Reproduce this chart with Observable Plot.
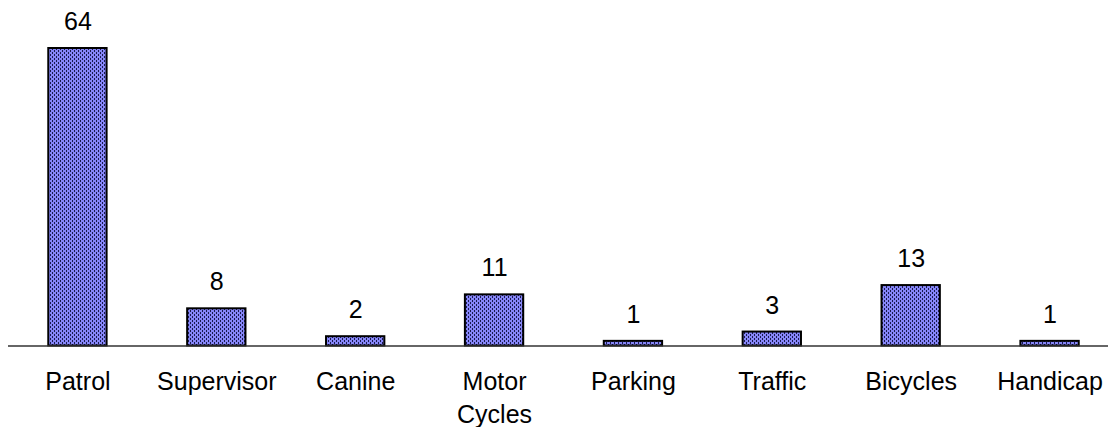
<!DOCTYPE html>
<html>
<head>
<meta charset="utf-8">
<script src="https://cdn.jsdelivr.net/npm/d3@7"></script>
<script src="https://cdn.jsdelivr.net/npm/@observablehq/plot@0.6"></script>
<style>
  html, body { margin: 0; padding: 0; background: #fff; }
  #chart svg { display: block; }
</style>
</head>
<body>
<div id="chart"></div>
<script>
const categories = ["Patrol", "Supervisor", "Canine", "Motor\nCycles", "Parking", "Traffic", "Bicycles", "Handicap"];
const values = [64, 8, 2, 11, 1, 3, 13, 1];

const data = categories.map((c, i) => ({category: c, value: values[i]}));
const font = "Liberation Sans, Arial, sans-serif";

const chart = Plot.plot({
  width: 1108,
  height: 427,
  marginLeft: 8,
  marginRight: 0,
  marginTop: 48,
  marginBottom: 81.5,
  style: {fontFamily: font, background: "#fff", color: "#000", overflow: "visible"},
  x: {domain: categories, range: [8, 1119], paddingInner: 0.58, paddingOuter: 0.29, round: false, axis: null},
  y: {domain: [0, 64], axis: null},
  marks: [
    Plot.barY(data, {x: "category", y: "value", fill: "url(#barPattern)", stroke: "#000", strokeWidth: 2}),
    Plot.ruleY([0], {stroke: "#333", strokeWidth: 1.3}),
    Plot.text(data, {x: "category", y: "value", text: d => String(d.value), dy: -18.5, lineAnchor: "bottom", fontSize: 25, fill: "#000"}),
    Plot.text(data, {x: "category", y: () => 0, text: "category", dy: 20.5, lineAnchor: "top", lineHeight: 1.31, fontSize: 25, fill: "#000"})
  ]
});

// pattern definition for bar fill
const ns = "http://www.w3.org/2000/svg";
const defs = document.createElementNS(ns, "defs");
const pat = document.createElementNS(ns, "pattern");
pat.setAttribute("id", "barPattern");
pat.setAttribute("patternUnits", "userSpaceOnUse");
pat.setAttribute("width", "4");
pat.setAttribute("height", "4");
const bg = document.createElementNS(ns, "rect");
bg.setAttribute("width", "4"); bg.setAttribute("height", "4"); bg.setAttribute("fill", "#8686f8");
pat.appendChild(bg);
[[0, 0], [2, 2]].forEach(([x, y]) => {
  const r = document.createElementNS(ns, "rect");
  r.setAttribute("x", x); r.setAttribute("y", y);
  r.setAttribute("width", "1"); r.setAttribute("height", "2");
  r.setAttribute("fill", "#1a1a50");
  pat.appendChild(r);
});
defs.appendChild(pat);
chart.insertBefore(defs, chart.firstChild);

document.getElementById("chart").appendChild(chart);
</script>
</body>
</html>
